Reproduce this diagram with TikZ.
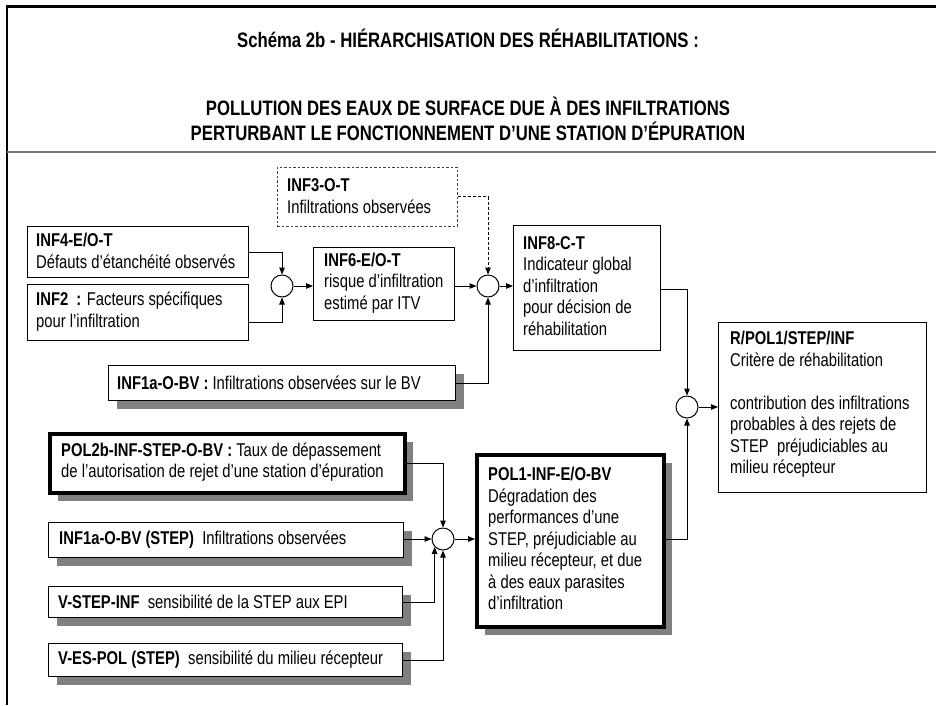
\documentclass[tikz,border=0pt]{standalone}
\usepackage{fontspec}
\setmainfont{Liberation Sans}[FakeStretch=0.8]
\usetikzlibrary{arrows.meta,shadows,calc}
\begin{document}
\begin{tikzpicture}[x=1pt,y=-1pt,
  box/.style={draw, line width=1.1pt, fill=white, inner sep=0pt, anchor=north west},
  thickbox/.style={box, line width=3.6pt},
  shadowed/.style={drop shadow={shadow xshift=8pt, shadow yshift=-8pt, fill=black!50, opacity=1}},
  dashbox/.style={box, line width=0.9pt, dash pattern=on 2.5pt off 2pt, draw=black!75},
  txt/.style={anchor=west, align=left, inner sep=0pt, font=\fontsize{18.5}{21.5}\selectfont},
  junction/.style={circle, draw, line width=1pt, minimum size=22pt, inner sep=0pt, fill=white},
  arr/.style={line width=1pt, -{Triangle[length=7pt,width=5.5pt]}},
  darr/.style={arr, dash pattern=on 3pt off 2pt},
  titletext/.style={anchor=base, font=\bfseries\fontsize{20.9}{25}\selectfont, inner sep=0pt}
]
\useasboundingbox (0,0) rectangle (936,705);
% frame
\draw[line width=2.2pt] (7,705) -- (7,6.5) -- (936,6.5);
\draw[line width=1.6pt, black!55] (7,152) -- (936,152);
% titles
\node[titletext] (t1) at (468,47) {Schéma 2b - HIÉRARCHISATION DES RÉHABILITATIONS :};
\node[titletext] (t2) at (468,115) {POLLUTION DES EAUX DE SURFACE DUE À DES INFILTRATIONS};
\node[titletext] (t3) at (468,140) {PERTURBANT LE FONCTIONNEMENT D’UNE STATION D’ÉPURATION};

% boxes
\node[dashbox, minimum width=180pt, minimum height=59pt] (inf3) at (277,167) {};
\node[box, minimum width=221pt, minimum height=51pt] (inf4) at (27,226) {};
\node[box, minimum width=221pt, minimum height=56pt] (inf2) at (27,284) {};
\node[box, minimum width=141pt, minimum height=73pt] (inf6) at (313,247) {};
\node[box, shadowed, minimum width=347pt, minimum height=35pt] (inf1a) at (108,365) {};
\node[box, minimum width=147pt, minimum height=125pt] (inf8) at (513,225) {};
\node[box, minimum width=208pt, minimum height=170pt] (r) at (718,322) {};
\node[thickbox, shadowed, minimum width=187pt, minimum height=172pt] (pol1) at (475,453) {};
\node[thickbox, shadowed, minimum width=355pt, minimum height=59pt] (pol2b) at (48,432) {};
\node[box, shadowed, minimum width=355pt, minimum height=35pt] (inf1as) at (48,522) {};
\node[box, shadowed, minimum width=354pt, minimum height=31pt] (vstep) at (48,586) {};
\node[box, shadowed, minimum width=354pt, minimum height=33pt] (ves) at (48,643) {};

% texts
\node[txt] (inf3t) at ($(inf3.west)+(10,-1)$) {\textbf{INF3-O-T}\\Infiltrations observées};
\node[txt] (inf4t) at ($(inf4.west)+(9,-1)$) {\textbf{INF4-E/O-T}\\Défauts d’étanchéité observés};
\node[txt] (inf2t) at ($(inf2.west)+(9,-1)$) {\textbf{INF2~~:} Facteurs spécifiques\\pour l’infiltration};
\node[txt] (inf6t) at ($(inf6.west)+(11,-1)$) {\textbf{INF6-E/O-T}\\risque d’infiltration\\estimé par ITV};
\node[txt] (inf1at) at ($(inf1a.west)+(9,0)$) {\textbf{INF1a-O-BV :} Infiltrations observées sur le BV};
\node[txt] (inf8t) at ($(inf8.west)+(10,-2)$) {\textbf{INF8-C-T}\\Indicateur global\\d’infiltration\\pour décision de\\réhabilitation};
\node[txt] (rt) at ($(r.west)+(12,-3)$) {\textbf{R/POL1/STEP/INF}\\Critère de réhabilitation\\[21.5pt]contribution des infiltrations\\probables à des rejets de\\STEP~~préjudiciables au\\milieu récepteur};
\node[txt] (pol1t) at ($(pol1.west)+(13,-2)$) {\textbf{POL1-INF-E/O-BV}\\Dégradation des\\performances d’une\\STEP, préjudiciable au\\milieu récepteur, et due\\à des eaux parasites\\d’infiltration};
\node[txt] (pol2bt) at ($(pol2b.west)+(13,-1)$) {\textbf{POL2b-INF-STEP-O-BV :} Taux de dépassement\\de l’autorisation de rejet d’une station d’épuration};
\node[txt] (inf1ast) at ($(inf1as.west)+(11,0)$) {\textbf{INF1a-O-BV (STEP)}~~Infiltrations observées};
\node[txt] (vstept) at ($(vstep.west)+(10,0)$) {\textbf{V-STEP-INF}~~sensibilité de la STEP aux EPI};
\node[txt] (vest) at ($(ves.west)+(10,0)$) {\textbf{V-ES-POL (STEP)}~~sensibilité du milieu récepteur};

% junctions
\node[junction] (c1) at (282,286) {};
\node[junction] (c2) at (488,286) {};
\node[junction] (c3) at (687,407) {};
\node[junction] (c4) at (443,539) {};

% connectors
\draw[arr] (inf4.east) -| (c1.north);
\draw[arr] ($(inf2.east)+(0,10)$) -| (c1.south);
\draw[arr] (c1.east) -- (c1.east -| inf6.west);
\draw[arr] (inf6.east |- c2.west) -- (c2.west);
\draw[darr] (inf3.east) -| (c2.north);
\draw[arr] (inf1a.east) -| (c2.south);
\draw[arr] (c2.east) -- (c2.east -| inf8.west);
\draw[arr] ($(inf8.north east)+(0,64)$) -| (c3.north);
\draw[arr] (pol1.east |- c4.east) -| (c3.south);
\draw[arr] (c3.east) -- (c3.east -| r.west);
\draw[arr] (pol2b.east) -| (c4.north);
\draw[arr] (inf1as.east |- c4.west) -- (c4.west);
\draw[arr] (c4.east) -- (c4.east -| pol1.west);
\draw[arr] (vstep.east) -| (c4.223);
\draw[arr] (ves.east) -| (c4.south);
\end{tikzpicture}
\end{document}
